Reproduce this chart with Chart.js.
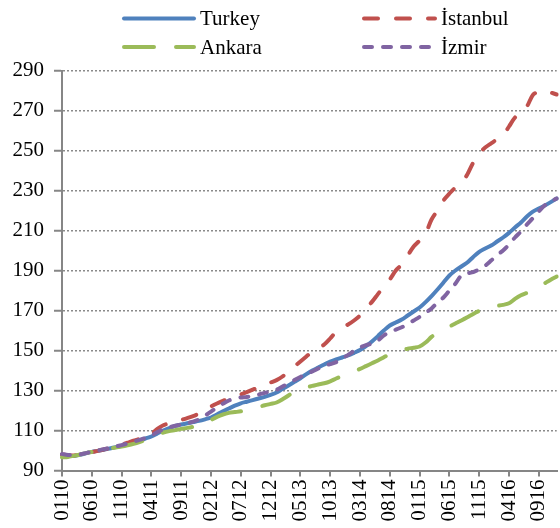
<!DOCTYPE html>
<html>
<head>
<meta charset="utf-8">
<script src="https://cdn.jsdelivr.net/npm/chart.js@4.4.1/dist/chart.umd.min.js"></script>
<style>
  html, body { margin: 0; padding: 0; background: #ffffff; }
  #wrap { width: 560px; height: 528px; }
</style>
</head>
<body>
<div id="wrap"><canvas id="c" width="560" height="528"></canvas></div>
<script>
// Months Jan 2010 .. Dec 2016 as MMYY
const months = [];
for (let y = 10; y <= 16; y++) {
  for (let m = 1; m <= 12; m++) {
    months.push(String(m).padStart(2, '0') + String(y));
  }
}
// Shown tick labels (every 5th month)
const tickLabels = ['0110','0610','1110','0411','0911','0212','0712','1212','0513','1013','0314','0814','0115','0615','1115','0416','0916'];

const turkey = [97.8,97.4,97.3,97.8,98.6,99.3,99.8,100.4,101.0,101.7,102.3,103.0,104.0,105.0,106.0,107.0,108.5,110.0,111.2,112.3,113.0,113.6,114.2,114.8,115.6,116.5,118.0,119.6,121.0,122.4,123.6,124.4,125.2,126.0,126.8,127.8,129.0,130.8,132.5,134.3,136.1,138.2,140.0,141.5,143.0,144.4,145.5,146.5,147.5,148.8,150.2,152.2,154.5,157.2,160.0,162.5,164.0,165.5,167.5,169.5,171.5,174.2,177.2,180.5,184.0,187.5,190.0,192.0,194.0,196.8,199.3,201.0,202.5,204.5,206.5,208.8,211.5,214.0,217.0,219.4,221.0,222.5,224.2,226.0];

const istanbul = [98.0,97.6,97.5,97.9,98.5,99.2,99.8,100.5,101.2,102.0,102.9,103.9,104.9,105.8,106.8,108.2,110.8,112.6,113.6,114.5,115.3,116.2,117.2,118.5,120.2,122.0,123.5,124.8,126.0,127.0,128.0,129.2,130.4,131.6,132.8,134.0,135.2,137.0,139.5,142.0,144.5,147.0,149.5,151.2,153.0,156.0,159.4,161.5,163.0,165.0,167.5,171.0,174.3,178.2,182.0,185.5,190.0,193.0,197.5,202.0,205.0,208.5,215.5,220.0,225.0,228.5,231.5,233.8,238.0,244.0,248.6,251.5,253.6,255.6,257.7,262.0,266.5,268.8,272.0,277.8,279.5,280.0,279.0,278.0];

const ankara = [96.6,96.8,97.3,98.0,98.7,99.3,99.8,100.3,100.9,101.5,102.0,102.6,103.3,104.2,105.3,106.6,108.0,109.0,109.7,110.2,110.8,111.3,111.8,112.4,113.5,115.2,116.8,118.0,118.8,119.2,119.6,120.2,121.0,121.8,122.6,123.3,124.0,125.6,127.5,129.6,131.0,131.6,132.3,133.0,133.6,134.6,136.0,137.3,138.5,139.5,140.8,142.2,143.6,145.0,146.6,148.2,149.4,150.2,150.9,151.4,152.0,154.0,156.8,159.0,160.8,162.0,163.5,165.0,166.6,168.3,169.8,171.0,171.8,172.3,172.8,173.6,175.8,177.6,178.8,180.0,181.8,183.6,185.4,187.0];

const izmir = [98.3,97.8,97.6,98.0,98.7,99.4,100.0,100.6,101.3,102.0,102.7,103.5,104.4,105.3,106.3,107.5,109.2,110.6,111.6,112.4,113.0,113.7,114.4,115.6,117.4,119.4,121.5,123.4,125.0,126.0,126.5,126.8,127.3,128.0,128.8,129.6,130.4,132.0,133.5,135.2,136.8,138.3,139.5,141.0,142.4,143.2,144.2,146.0,147.8,149.8,151.5,152.7,153.4,155.0,157.5,159.4,160.4,161.6,163.2,165.0,166.8,168.8,171.0,174.0,176.5,180.0,183.4,187.5,188.6,189.2,190.6,192.4,195.0,197.7,200.0,203.0,206.5,209.5,213.0,216.2,219.6,222.6,224.5,226.0];

const seriesNames = ['Turkey', 'İstanbul', 'Ankara', 'İzmir'];
const yTicks = [90,110,130,150,170,190,210,230,250,270,290];

const FONT = '"Liberation Serif", "Times New Roman", serif';

const legendPlugin = {
  id: 'customLegend',
  afterDraw(chart) {
    const ctx = chart.ctx;
    const pos = [
      {x1: 124, x2: 194, y: 18.5, tx: 200},
      {x1: 364, x2: 435, y: 18.5, tx: 441},
      {x1: 124, x2: 194, y: 47, tx: 200},
      {x1: 364, x2: 435, y: 47, tx: 441}
    ];
    chart.data.datasets.forEach((ds, i) => {
      const p = pos[i];
      ctx.save();
      ctx.strokeStyle = ds.borderColor;
      ctx.lineWidth = ds.borderWidth;
      ctx.lineCap = 'round';
      ctx.setLineDash(ds.borderDash || []);
      ctx.beginPath();
      ctx.moveTo(p.x1, p.y);
      ctx.lineTo(p.x2, p.y);
      ctx.stroke();
      ctx.setLineDash([]);
      ctx.fillStyle = '#000';
      ctx.font = '21px ' + FONT;
      ctx.textBaseline = 'middle';
      ctx.textAlign = 'left';
      ctx.fillText(ds.label, p.tx, p.y + 1);
      ctx.restore();
    });
  }
};

const mk = (label, data, color, dash, order) => ({
  label, data, borderColor: color, backgroundColor: color,
  borderWidth: 4, borderDash: dash, borderCapStyle: 'round', borderJoinStyle: 'round',
  pointRadius: 0, pointHoverRadius: 0, tension: 0.3, fill: false, order
});

new Chart(document.getElementById('c'), {
  type: 'line',
  data: {
    labels: months,
    datasets: [
      mk(seriesNames[0], turkey, '#4F81BD', [], 4),
      mk(seriesNames[1], istanbul, '#C0504D', [14, 18], 3),
      mk(seriesNames[2], ankara, '#9BBB59', [30, 22], 2),
      mk(seriesNames[3], izmir, '#8064A2', [8, 11], 1)
    ]
  },
  options: {
    responsive: false,
    animation: false,
    events: [],
    layout: { padding: { top: 70.5, right: 3.3, left: 0, bottom: 0 } },
    plugins: { legend: { display: false }, tooltip: { enabled: false } },
    scales: {
      x: {
        type: 'category',
        offset: false,
        grid: { display: true, drawOnChartArea: false, drawTicks: true, tickLength: 6, color: '#868686', lineWidth: 2 },
        border: { display: true, color: '#868686', width: 2 },
        ticks: {
          autoSkip: false, maxRotation: 90, minRotation: 90, padding: 3,
          color: '#000', font: { family: FONT, size: 21 },
          callback: function(v, i) {
            const l = months[i];
            return tickLabels.includes(l) ? l : null;
          }
        },
        afterFit(scale) { scale.height = 57.5; scale.paddingLeft = 0; scale.paddingRight = 0; }
      },
      y: {
        min: 90, max: 290,
        afterBuildTicks(scale) { scale.ticks = yTicks.map(v => ({ value: v })); },
        grid: { color: '#8a8a8a', lineWidth: 1.5, tickLength: 8, tickColor: '#868686', tickWidth: 2 },
        border: { display: true, color: '#868686', width: 2, dash: [2, 2] },
        ticks: { color: '#000', padding: 10, font: { family: FONT, size: 21 } },
        afterFit(scale) { scale.width = 62; scale.paddingTop = 0; scale.paddingBottom = 0; }
      }
    }
  },
  plugins: [legendPlugin]
});
</script>
</body>
</html>
